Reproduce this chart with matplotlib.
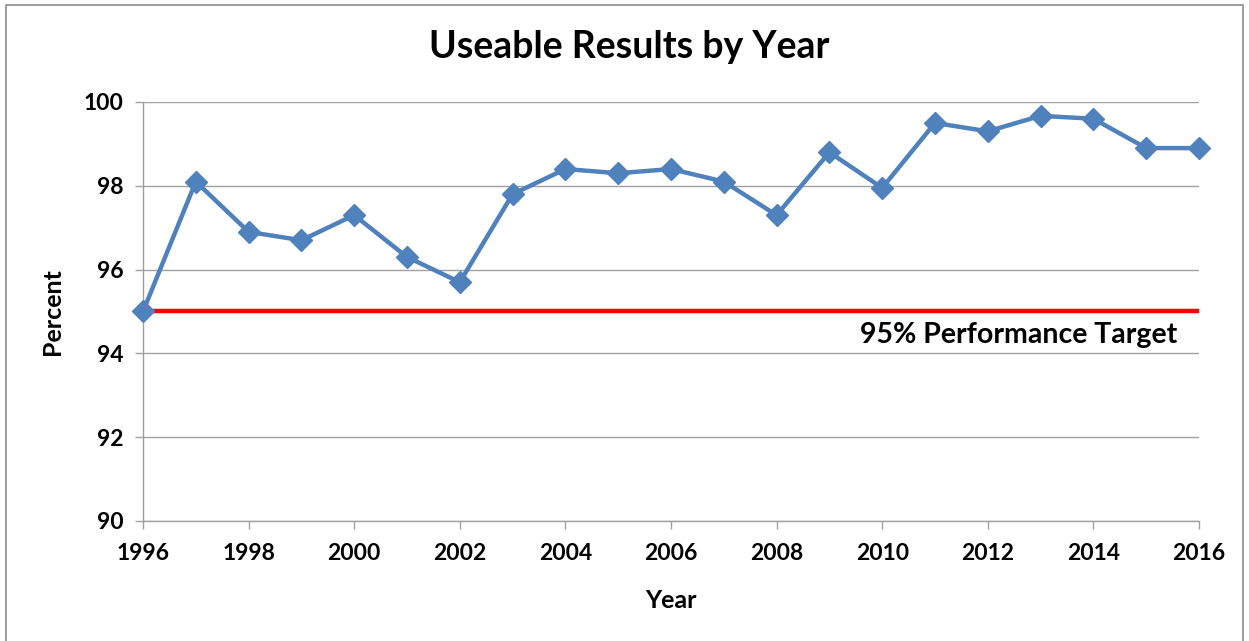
import matplotlib
matplotlib.use("Agg")
import matplotlib.pyplot as plt
from matplotlib.patches import Rectangle

years = [1996, 1997, 1998, 1999, 2000, 2001, 2002, 2003, 2004, 2005, 2006,
         2007, 2008, 2009, 2010, 2011, 2012, 2013, 2014, 2015, 2016]
percent = [95.0, 98.1, 96.9, 96.7, 97.3, 96.3, 95.7, 97.8, 98.4, 98.3, 98.4,
           98.1, 97.3, 98.8, 97.95, 99.5, 99.3, 99.67, 99.6, 98.9, 98.9]
target = 95
x_ticks = list(range(1996, 2017, 2))
y_ticks = [90, 92, 94, 96, 98, 100]

plt.rcParams['font.family'] = ['Lato', 'DejaVu Sans']
plt.rcParams['font.weight'] = 'bold'

fig = plt.figure(figsize=(12.49, 6.41), dpi=100)
ax = fig.add_axes([143/1249, 1-521/641, (1199-143)/1249, (521-102)/641])

ax.plot([years[0], years[-1]], [target, target], color='#FF0000', lw=3.2, zorder=2,
        solid_capstyle='butt')
ax.plot(years, percent, color='#4F81BD', lw=3.2, marker='D', markersize=11,
        zorder=3, clip_on=False)

ax.set_xlim(1996, 2016)
ax.set_ylim(90, 100)
ax.set_xticks(x_ticks)
ax.set_yticks(y_ticks)
ax.set_xticklabels([str(t) for t in x_ticks], fontsize=16.5, fontweight='bold')
ax.set_yticklabels([str(t) for t in y_ticks], fontsize=16.5, fontweight='bold')
ax.tick_params(axis='x', direction='out', length=6, width=1, color='#A0A0A0', pad=10)
ax.tick_params(axis='y', direction='out', length=6, width=1, color='#A0A0A0', pad=8)
ax.grid(axis='y', color='#A0A0A0', lw=1)
ax.set_axisbelow(True)
for s in ['top', 'right']:
    ax.spines[s].set_visible(False)
for s in ['left', 'bottom']:
    ax.spines[s].set_color('#A0A0A0')
    ax.spines[s].set_linewidth(1)

fig.text(629/1249, 1-47/641, 'Useable Results by Year', fontsize=27, fontweight='bold',
         ha='center', va='center')
ax.set_xlabel('Year', fontsize=18, fontweight='bold', labelpad=18)
ax.set_ylabel('Percent', fontsize=18, fontweight='bold', labelpad=14)
ax.text(2015.58, 94.45, '95% Performance Target', fontsize=20.5, fontweight='bold',
        ha='right', va='center')

fig.patches.append(Rectangle((6/1249, -0.02), (1243-6)/1249, 1-5/641+0.02,
                             transform=fig.transFigure, fill=False,
                             edgecolor='#8C8C8C', lw=1.2))

fig.savefig('out.png', dpi=100)
